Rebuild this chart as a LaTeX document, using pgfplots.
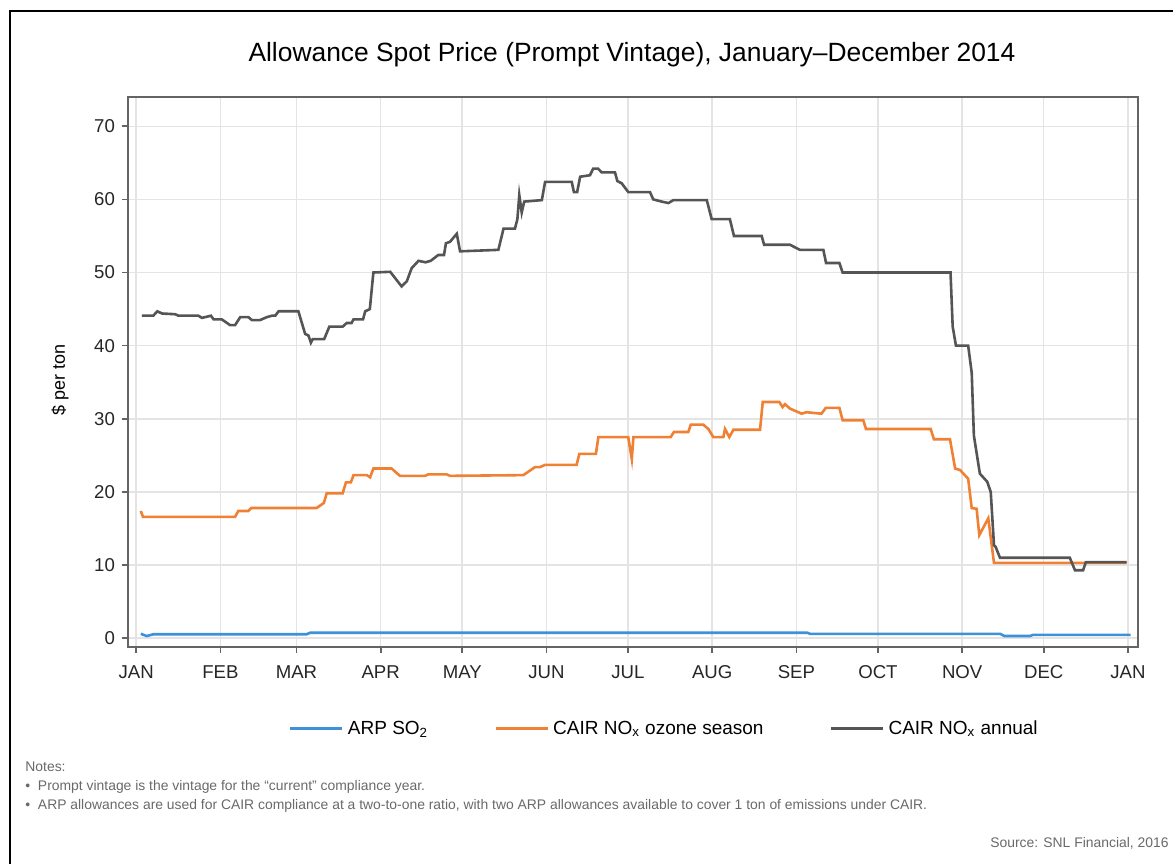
\documentclass[border=0pt]{standalone}
\usepackage{fontspec}
\setmainfont{Liberation Sans}
\usepackage{pgfplots}
\pgfplotsset{compat=1.18}
\definecolor{arpblue}{RGB}{62,145,217}
\definecolor{cairorange}{RGB}{240,128,52}
\definecolor{cairgray}{RGB}{85,85,85}
\definecolor{axisgray}{RGB}{100,100,100}
\definecolor{gridgray}{RGB}{228,228,228}
\definecolor{notegray}{RGB}{105,105,105}

\pgfplotstableread{
d v
1.7 0.6
3.9 0.3
6.4 0.55
62.8 0.55
64.0 0.75
247 0.75
248 0.6
318 0.6
319.5 0.3
329 0.3
330 0.45
366 0.45
}\arp

\pgfplotstableread{
d v
1.7 17.4
2.5 16.6
36.4 16.6
37.6 17.4
41.3 17.4
42.3 17.8
66.4 17.8
69.1 18.5
70.1 19.8
76.0 19.8
77.2 21.3
79.0 21.3
80.0 22.3
84.9 22.3
86.1 22.0
87.3 23.2
94.0 23.2
97.1 22.2
106.3 22.2
107.5 22.4
114.3 22.4
115.5 22.2
142.5 22.3
146.8 23.4
148.6 23.4
150.5 23.7
162.1 23.7
163.1 25.2
169.2 25.2
170.1 27.5
181.1 27.5
182.4 24.5
183.0 27.5
196.7 27.5
197.9 28.2
203.2 28.2
204.1 29.2
208.7 29.2
210.6 28.6
212.4 27.5
216.1 27.5
216.7 28.6
218.3 27.5
219.8 28.5
229.6 28.5
230.6 32.3
236.7 32.3
237.9 31.6
238.8 32.0
240.6 31.4
244.9 30.7
246.7 30.9
252.2 30.7
253.8 31.5
258.8 31.5
260.0 29.8
267.6 29.8
268.6 28.6
292.4 28.6
293.6 27.2
299.5 27.2
301.4 23.2
303.2 23.0
306.2 21.8
307.5 17.8
309.3 17.7
310.3 14.1
313.6 16.4
315.7 10.3
364.5 10.3
}\ozone

\pgfplotstableread{
d v
2.1 44.1
6.3 44.1
7.8 44.7
9.5 44.4
14.3 44.3
15.6 44.1
22.9 44.1
24.2 43.8
26.5 44.0
27.5 44.1
28.5 43.6
31.5 43.6
34.6 42.8
36.4 42.8
38.3 43.9
41.3 43.9
42.6 43.5
45.6 43.5
48.1 43.9
50.0 44.1
51.2 44.1
52.4 44.7
59.7 44.7
62.2 41.6
63.4 41.4
64.3 40.4
65.0 40.9
69.2 40.9
71.1 42.6
76.0 42.6
77.5 43.1
79.3 43.1
80.0 43.6
83.5 43.6
84.3 44.7
86.0 45.0
87.3 50.0
93.5 50.1
97.7 48.1
99.6 48.8
101.4 50.6
103.9 51.6
106.5 51.4
108.4 51.6
111.2 52.4
113.3 52.4
114.0 54.0
115.5 54.2
118.0 55.3
119.2 52.9
133.3 53.1
135.2 56.0
139.4 56.0
140.3 57.3
141.0 60.6
141.9 58.2
142.8 59.7
149.3 59.9
150.5 62.4
160.3 62.4
161.1 61.0
162.3 61.0
163.4 63.1
167.0 63.3
168.2 64.2
170.0 64.2
171.3 63.7
176.2 63.7
177.1 62.5
178.7 62.2
181.1 61.0
189.1 61.0
190.3 60.0
193.4 59.7
195.9 59.5
197.7 59.9
210.0 59.9
211.8 57.3
218.5 57.3
220.0 55.0
230.2 55.0
231.1 53.8
240.6 53.8
244.3 53.1
252.9 53.1
253.9 51.3
258.8 51.3
260.0 50.0
299.7 50.0
300.5 42.6
301.7 40.0
306.2 40.0
307.5 36.3
308.3 27.7
310.5 22.5
313.2 21.4
314.5 20.0
315.7 12.7
316.3 12.5
317.9 11.0
343.6 11.0
345.5 9.3
348.5 9.3
349.5 10.4
364.5 10.4
}\annual

\begin{document}
\begin{tikzpicture}[x=0.5pt,y=0.5pt]
\useasboundingbox (0,0) rectangle (1173,863);
\draw[line width=1.1pt, black] (10,-10) -- (10,852) -- (1190,852);
\node[font=\fontsize{13.2}{15}\selectfont] at (632,808) {Allowance Spot Price (Prompt Vintage), January--December 2014};
\node[rotate=90, font=\fontsize{9}{10}\selectfont] at (60,483) {\$ per ton};

\begin{axis}[
  at={(64pt,108pt)}, anchor=south west,
  scale only axis, width=505pt, height=275pt,
  xmin=-3, xmax=368.7, ymin=-1.2, ymax=74,
  xtick={0,31,59,90,120,151,181,212,243,273,304,334,365},
  xticklabels={JAN,FEB,MAR,APR,MAY,JUN,JUL,AUG,SEP,OCT,NOV,DEC,JAN},
  ytick={0,10,...,70},
  xtick pos=lower, ytick pos=left,
  tick align=outside, major tick length=3pt,
  grid=major, major grid style={gridgray, line width=0.75pt},
  axis line style={axisgray, line width=0.9pt},
  tick style={axisgray, line width=0.8pt},
  tick label style={font=\fontsize{9.3}{10}\selectfont, text=black!85},
  xticklabel style={text height=6.8pt, text depth=0pt, yshift=-2.2pt},
  /pgf/number format/assume math mode=true,
  legend columns=3,
  legend style={at={(0.532,-0.149)}, anchor=center, draw=none, fill=none,
    font=\fontsize{9.5}{11}\selectfont,
    /tikz/every even column/.append style={column sep=31pt}},
  legend image code/.code={\draw[#1, line width=1.5pt] (0pt,0pt) -- (26pt,0pt);},
]
\addplot[arpblue, line width=1.3pt] table[x=d, y=v] {\arp};
\addlegendentry{ARP SO\textsubscript{2}}
\addplot[cairorange, line width=1.3pt] table[x=d, y=v] {\ozone};
\addlegendentry{CAIR NO\textsubscript{x} ozone season}
\addplot[cairgray, line width=1.3pt] table[x=d, y=v] {\annual};
\addlegendentry{CAIR NO\textsubscript{x} annual}
\end{axis}

\begin{scope}[every node/.style={anchor=west, font=\fontsize{6.95}{8}\selectfont, text=notegray, inner sep=0pt}]
\node at (25,96) {Notes:};
\node at (25,76) {\textbullet\ \ Prompt vintage is the vintage for the ``current'' compliance year.};
\node at (25,57) {\textbullet\ \ ARP allowances are used for CAIR compliance at a two-to-one ratio, with two ARP allowances available to cover 1 ton of emissions under CAIR.};
\node[anchor=east] at (1169,20) {Source: SNL Financial, 2016};
\end{scope}
\end{tikzpicture}
\end{document}
